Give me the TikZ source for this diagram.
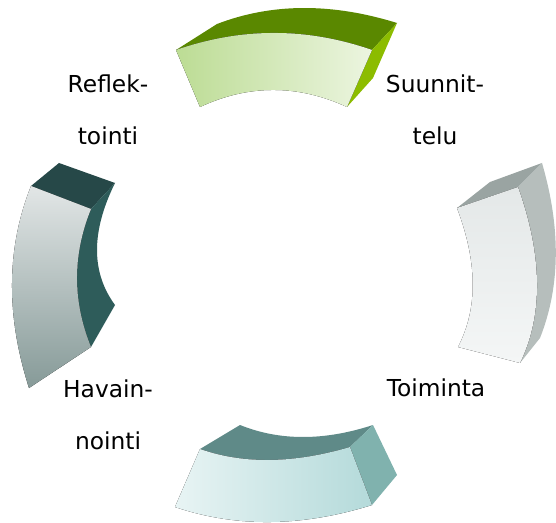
\documentclass[tikz,border=0pt]{standalone}
\usepackage{fontspec}
\setmainfont{DejaVu Sans}

\definecolor{grnfrontL}{HTML}{BCDC94}
\definecolor{grnfrontR}{HTML}{ECF5E0}
\definecolor{grntop}{HTML}{5A8800}
\definecolor{grnside}{HTML}{8CBC00}
\definecolor{drkfrontT}{HTML}{E2E6E6}
\definecolor{drkfrontB}{HTML}{869A98}
\definecolor{drktop}{HTML}{264848}
\definecolor{drkside}{HTML}{2E5C5A}
\definecolor{gryfrontT}{HTML}{E4E8E8}
\definecolor{gryfrontB}{HTML}{F4F6F6}
\definecolor{grytop}{HTML}{9AA4A2}
\definecolor{gryside}{HTML}{B6BEBC}
\definecolor{tlfrontL}{HTML}{E8F4F4}
\definecolor{tlfrontR}{HTML}{B4DADA}
\definecolor{tltop}{HTML}{5F8A88}
\definecolor{tlside}{HTML}{80B2AE}

\tikzset{phase/.style={align=center,font=\fontsize{17.5}{39}\selectfont}}

\begin{document}
\begin{tikzpicture}[x=0.75pt,y=-0.75pt]

   \useasboundingbox (0,0) rectangle (556,523);

   % Suunnittelu (top)
   \fill[grntop] (176,50) -- (217,24) .. controls (271.7,3) and (331.7,2.7) .. (397,23)
       -- (372,50) .. controls (306.7,27.3) and (241.3,27.3) .. (176,50) -- cycle;
   \fill[grnside] (372,50) -- (397,23) -- (373,78) -- (347,107) -- cycle;
   \fill[left color=grnfrontL,right color=grnfrontR] (176,50)
       .. controls (241.3,27.3) and (306.7,27.3) .. (372,50)
       -- (347,107) .. controls (297.7,84.3) and (248.7,84.3) .. (200,107) -- cycle;

   % Toiminta (right)
   \fill[grytop] (457,208) -- (490,182) -- (542,163) -- (518,187) -- cycle;
   \fill[gryside] (518,187) -- (542,163) .. controls (560.7,227.3) and (560.7,285.7) .. (540,338)
       -- (520,363) -- cycle;
   \fill[top color=gryfrontT,bottom color=gryfrontB] (457,208) -- (518,187)
       .. controls (542.7,256.3) and (543.3,315) .. (520,363) -- (458,347)
       .. controls (478.3,308) and (477.3,261.7) .. (457,208) -- cycle;

   % Havainnointi (bottom)
   \fill[tltop] (200,449) -- (240,425) .. controls (279.7,441) and (324,441) .. (373,425)
       -- (350,447) .. controls (293.3,463.7) and (243.3,464.3) .. (200,449) -- cycle;
   \fill[tlside] (350,447) -- (373,425) -- (397,475) -- (372,505) -- cycle;
   \fill[left color=tlfrontL,right color=tlfrontR] (200,449)
       .. controls (243.3,464.3) and (293.3,463.7) .. (350,447)
       -- (372,505) .. controls (301.7,527) and (236,527.7) .. (175,507) -- cycle;

   % Reflektointi (left)
   \fill[drktop] (31,186) -- (59,163) -- (115,183) -- (91,209) -- cycle;
   \fill[drkside] (91,209) -- (115,183) .. controls (91,231.7) and (91,272.3) .. (115,305)
       -- (91,347) .. controls (72.3,301) and (72.3,255) .. (91,209) -- cycle;
   \fill[top color=drkfrontT,bottom color=drkfrontB] (31,186) -- (91,209)
       .. controls (72.3,255) and (72.3,301) .. (91,347) -- (29,388)
       .. controls (5.7,315.3) and (6.3,248) .. (31,186) -- cycle;

   \node[phase] (reflek) at (108,110) {Reflek-\\tointi};
   \node[phase] (suunn) at (435,110) {Suunnit-\\telu};
   \node[phase] (havain) at (108,415) {Havain-\\nointi};
   \node[phase,anchor=base] (toim) at (436,397) {Toiminta};

\end{tikzpicture}
\end{document}
